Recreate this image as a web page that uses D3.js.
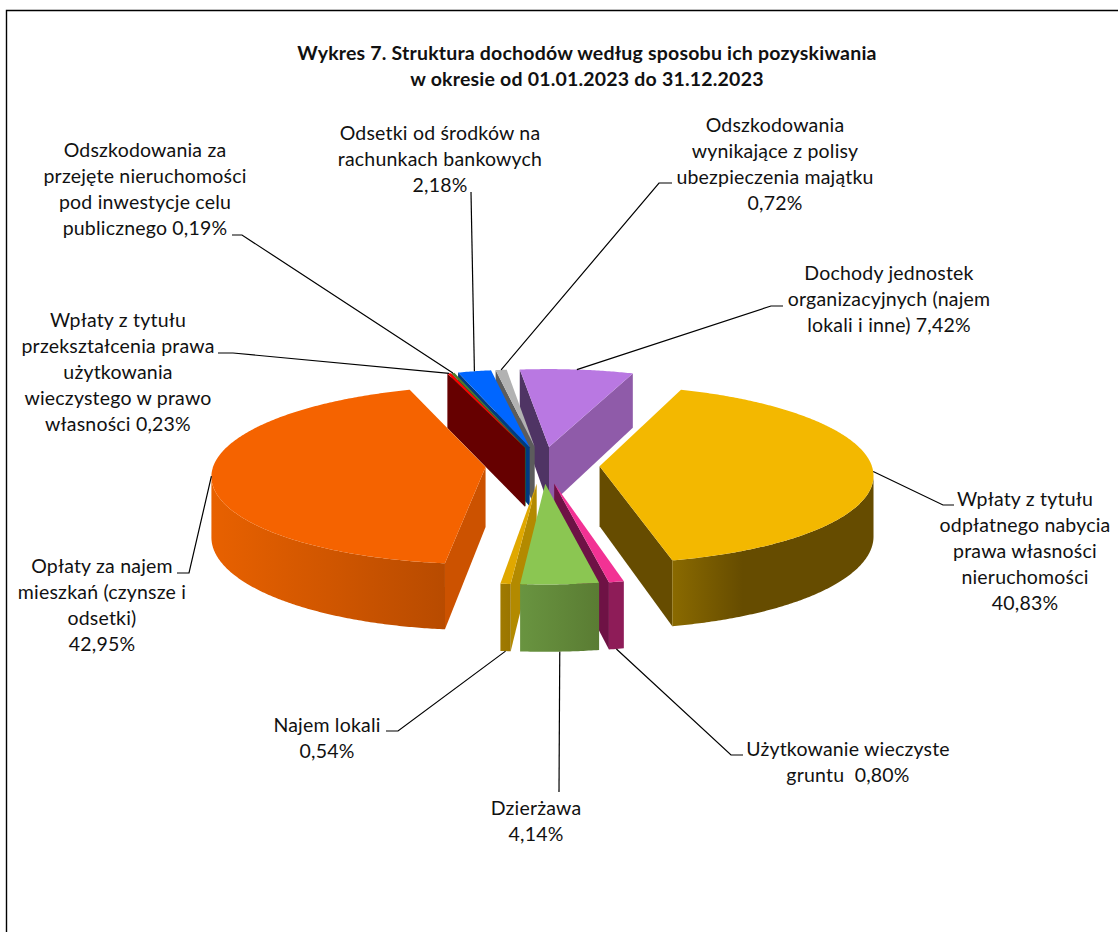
<!DOCTYPE html>
<html lang="pl">
<head>
<meta charset="utf-8">
<title>Wykres 7</title>
<script src="https://cdn.jsdelivr.net/npm/d3@7"></script>
<style>
html,body{margin:0;padding:0;background:#fff}
svg{display:block}
text{font-family:Lato,"Noto Sans",sans-serif;fill:#111;letter-spacing:.2px}
</style>
</head>
<body>
<div id="chart"></div>
<script>
const titleLines = ["Wykres 7. Struktura dochodów według sposobu ich pozyskiwania", "w okresie od 01.01.2023 do 31.12.2023"];
const values = [40.83, 0.80, 4.14, 0.54, 42.95, 0.23, 0.19, 2.18, 0.72, 7.42];
const labelTexts = [
  ["Wpłaty z tytułu","odpłatnego nabycia","prawa własności","nieruchomości","40,83%"],
  ["Użytkowanie wieczyste","gruntu  0,80%"],
  ["Dzierżawa","4,14%"],
  ["Najem lokali","0,54%"],
  ["Opłaty za najem","mieszkań (czynsze i","odsetki)","42,95%"],
  ["Wpłaty z tytułu","przekształcenia prawa","użytkowania","wieczystego w prawo","własności 0,23%"],
  ["Odszkodowania za","przejęte nieruchomości","pod inwestycje celu","publicznego 0,19%"],
  ["Odsetki od środków na","rachunkach bankowych","2,18%"],
  ["Odszkodowania","wynikające z polisy","ubezpieczenia majątku","0,72%"],
  ["Dochody jednostek","organizacyjnych (najem","lokali i inne) 7,42%"]
];
const topColors  = ["#f3b800","#f23294","#8bc652","#e0a800","#f56300","#ff0000","#4e7a28","#0066ff","#b2b2b2","#b978e2"];
const wallStart  = ["#664c00","#6e1245","#5f8537","#b38a00","#cc5200","#660000","#2f5a20","#003a80","#5c5c5c","#4f3464"];
const wallEnd    = ["#664c00","#6e1245","#5f8537","#b38a00","#cc5200","#660000","#2f5a20","#003a80","#5c5c5c","#8f5ba9"];
const outerFrom  = ["#8a6a00","#8e1c58","#699440","#a07a00","#e86100","#660000","#2f5a20","#003a80","#5c5c5c","#8f5ba9"];
const outerTo    = ["#664c00","#8e1c58","#5a7c33","#9a7500","#b84b00","#660000","#2f5a20","#003a80","#5c5c5c","#8f5ba9"];
// painter's order: far slices first, near slices last
const drawOrder  = [9,8,7,6,5,4,0,1,3,2];

// layout: label centre, first baseline, elbow points of the leader line
const labelX     = [1025,848,536,327,102,118,145,440,775,889];
const labelY     = [506,756,815,732,573,327,157,140,132,280];
const lineGap    = 26;
const leaderBends= [
  [[943,505],[954,505]],
  [[731,755],[743,755]],
  [[559,792]],
  [[398,731],[386,731]],
  [[189,573],[177,573]],
  [[233,353],[218,353]],
  [[242,235],[232,235]],
  [[471,192]],
  [[659,183],[672,183]],
  [[771,306],[783,306]]
];
const leaderOnBase = [false,true,true,true,false,false,false,false,false,false];

const W = 1118, H = 932;
const CX = 542.5, CY = 465, RX = 272, RY = 88, PERSP = 0.09, EXPLODE = 0.21, DEPTH = 60;
const START = 20 * Math.PI / 180;

const svg = d3.select("#chart").append("svg").attr("width", W).attr("height", H);
const defs = svg.append("defs");

svg.append("path")
   .attr("d", `M6.5,${H} V10.5 H${W}`)
   .attr("fill","none").attr("stroke","#000").attr("stroke-width",1.4);

const xs = d3.scaleLinear().domain([0,1]).range([0,RX]);
const ys = d3.scaleLinear().domain([0,1]).range([0,RY]);

// project a point on the pie plane (angle clockwise from the back, radius r) of an exploded slice
function project(mid, theta, r) {
  const X = EXPLODE*Math.sin(mid) + r*Math.sin(theta);
  const V = EXPLODE*Math.cos(mid) + r*Math.cos(theta);
  const s = 1/(1 + PERSP*V);
  return {x: CX + xs(X*s), y: CY - ys(V*s), s};
}
const base = p => ({x:p.x, y:p.y + DEPTH*p.s, s:p.s});
const poly = d3.line().x(d=>d.x).y(d=>d.y);

const arcs = d3.pie().sort(null).value(d=>d)
  .startAngle(START).endAngle(START + 2*Math.PI)(values);

const pieG = svg.append("g");
const STEP = Math.PI/180;

drawOrder.forEach(i=>{
  const a = arcs[i];
  const a0=a.startAngle, a1=a.endAngle, mid=(a0+a1)/2;
  const g = pieG.append("g");
  const apex = project(mid,a0,0);
  const c0 = project(mid,a0,1), c1 = project(mid,a1,1);

  const wall = (c,fill)=> g.append("path")
    .attr("d", poly([apex,c,base(c),base(apex)])+"Z").attr("fill",fill);
  // radial walls facing the viewer
  if (Math.sin(a0) < 0) wall(c0, wallStart[i]);
  if (Math.sin(a1) > 0) wall(c1, wallEnd[i]);

  // outer rim on the near side, swept between the silhouette extremes of this slice
  const lo = Math.max(a0, 60*STEP), hi = Math.min(a1, 300*STEP);
  if (hi > lo) {
    const all = d3.range(lo, hi, STEP/2).concat([hi]);
    const iMax = d3.greatestIndex(all, t=>project(mid,t,1).x);
    const iMin = d3.leastIndex(all, t=>project(mid,t,1).x);
    const th = all.slice(iMax, iMin+1);
    const top = th.map(t=>project(mid,t,1));
    const gid = "rim"+i;
    const ex = d3.extent(top, p=>p.x);
    const grad = defs.append("linearGradient").attr("id",gid)
      .attr("gradientUnits","userSpaceOnUse")
      .attr("x1",ex[0]).attr("x2",i===0 ? ex[0]+(ex[1]-ex[0])*0.35 : ex[1]).attr("y1",0).attr("y2",0);
    grad.append("stop").attr("offset",0).attr("stop-color",outerFrom[i]);
    grad.append("stop").attr("offset",1).attr("stop-color",outerTo[i]);
    g.append("path")
      .attr("d", poly(top.concat(top.map(base).reverse()))+"Z")
      .attr("fill",`url(#${gid})`);
  }

  // top face
  const th = d3.range(a0,a1,STEP/2).concat([a1]);
  g.append("path")
    .attr("d", poly([apex].concat(th.map(t=>project(mid,t,1))))+"Z")
    .attr("fill",topColors[i]);
});

// leaders
const leaders = svg.append("g").attr("fill","none").attr("stroke","#000").attr("stroke-width",1.2);
arcs.forEach((a,i)=>{
  const mid=(a.startAngle+a.endAngle)/2;
  let p = project(mid,mid,1);
  if (leaderOnBase[i]) p = base(p);
  leaders.append("path").attr("d", d3.line()([[p.x,p.y]].concat(leaderBends[i])));
});

// labels
const lab = svg.append("g").attr("font-size",19.5).attr("text-anchor","middle");
labelTexts.forEach((lines,i)=>{
  lines.forEach((t,k)=>{
    lab.append("text").attr("x",labelX[i]).attr("y",labelY[i]+k*lineGap)
       .style("white-space","pre").text(t);
  });
});

// title
const tg = svg.append("g").attr("font-size",19.5).attr("font-weight",700).attr("text-anchor","middle");
titleLines.forEach((t,k)=>tg.append("text").attr("x",587).attr("y",60+k*26).text(t));
</script>
</body>
</html>
